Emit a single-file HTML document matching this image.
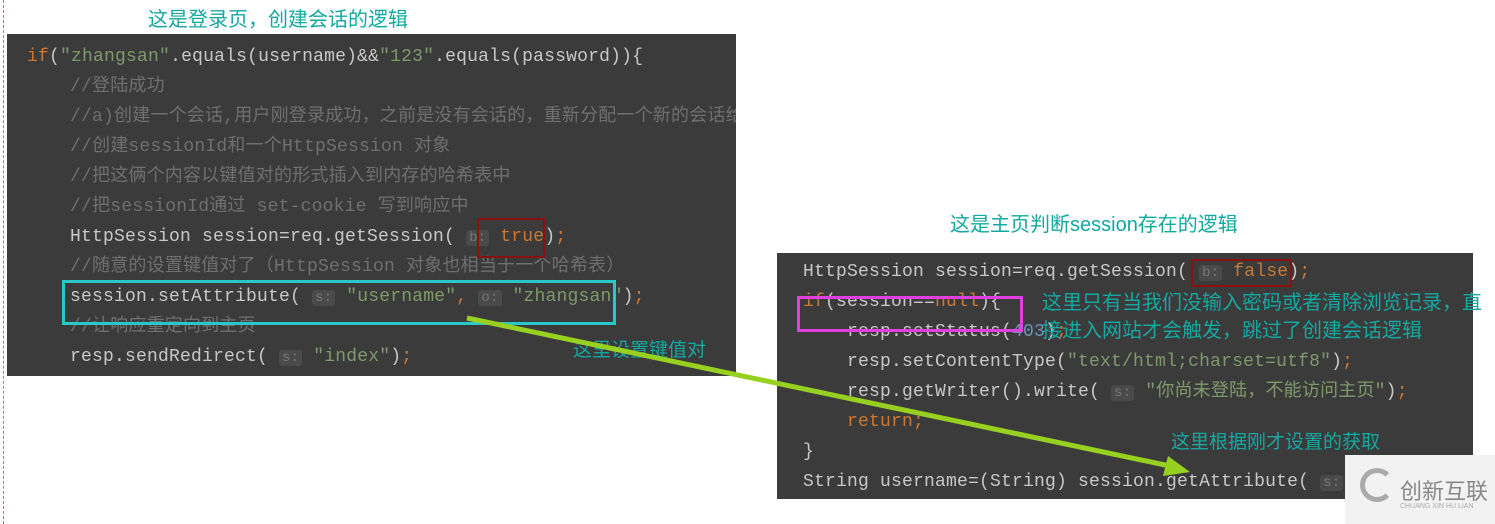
<!DOCTYPE html>
<html><head><meta charset="utf-8"><style>
body{margin:0;width:1495px;height:524px;background:#fff;position:relative;overflow:hidden;font-family:"Liberation Mono","Noto Sans CJK SC",monospace;}
.p{position:absolute;background:#3b3b3c;overflow:hidden}
.l{position:absolute;font-size:18px;color:#c8c8c8;white-space:pre;line-height:20px;letter-spacing:0.2px}
.c{color:#6f6f6f}.s{color:#7f9a6a}.k{color:#cc7832}.n{color:#6897bb}
.h{background:#4a4a4a;color:#777;font-size:14px;padding:0 3px;border-radius:3px}
.t{position:absolute;font-family:"Liberation Sans","Noto Sans CJK SC",sans-serif;color:#13a8a0;font-size:20px;white-space:pre}
.b{position:absolute;border:2px solid}
</style></head><body>
<div style="position:absolute;left:3px;top:0;height:524px;border-left:1px dashed #5a8fd0"></div>
<div class="t" style="left:148px;top:3px">这是登录页，创建会话的逻辑</div>
<div class="p" style="left:7px;top:34px;width:729px;height:342px"></div>
<div style="position:absolute;left:7px;top:34px;width:729px;height:342px;overflow:hidden">
<div class="l" style="left:20px;top:13px"><span class="k">if</span>(<span class="s">"zhangsan"</span>.equals(username)&amp;&amp;<span class="s">"123"</span>.equals(password)){</div>
<div class="l c" style="left:63px;top:43px">//登陆成功</div>
<div class="l c" style="left:63px;top:73px">//a)创建一个会话,用户刚登录成功，之前是没有会话的，重新分配一个新的会话给</div>
<div class="l c" style="left:63px;top:103px">//创建sessionId和一个HttpSession 对象</div>
<div class="l c" style="left:63px;top:133px">//把这俩个内容以键值对的形式插入到内存的哈希表中</div>
<div class="l c" style="left:63px;top:163px">//把sessionId通过 set-cookie 写到响应中</div>
<div class="l" style="left:63px;top:193px">HttpSession session=req.getSession( <span class="h">b:</span> <span class="k">true</span>)<span class="k">;</span></div>
<div class="l c" style="left:63px;top:223px">//随意的设置键值对了（HttpSession 对象也相当于一个哈希表）</div>
<div class="l" style="left:63px;top:253px">session.setAttribute( <span class="h">s:</span> <span class="s">"username"</span><span class="k">,</span> <span class="h">o:</span> <span class="s">"zhangsan"</span>)<span class="k">;</span></div>
<div class="l c" style="left:63px;top:283px">//让响应重定向到主页</div>
<div class="l" style="left:63px;top:313px">resp.sendRedirect( <span class="h">s:</span> <span class="s">"index"</span>)<span class="k">;</span></div>
</div>
<div class="b" style="left:477px;top:218px;width:64px;height:36px;border-color:#8b1010"></div>
<div class="b" style="left:62px;top:280px;width:548px;height:39px;border-color:#28c8c8;border-width:3px"></div>
<div class="t" style="left:573px;top:335px;font-size:19px">这里设置键值对</div>

<div class="t" style="left:950px;top:208px">这是主页判断session存在的逻辑</div>
<div class="p" style="left:777px;top:253px;width:696px;height:246px"></div>
<div class="l" style="left:803px;top:262px">HttpSession session=req.getSession( <span class="h">b:</span> <span class="k">false</span>)<span class="k">;</span></div>
<div class="l" style="left:803px;top:292px"><span class="k">if</span>(session==<span class="k">null</span>){</div>
<div class="l" style="left:847px;top:322px">resp.setStatus(<span class="n">403</span>)<span class="k">;</span></div>
<div class="l" style="left:847px;top:352px">resp.setContentType(<span class="s">"text/html;charset=utf8"</span>)<span class="k">;</span></div>
<div class="l" style="left:847px;top:382px">resp.getWriter().write( <span class="h">s:</span> <span class="s">"你尚未登陆，不能访问主页"</span>)<span class="k">;</span></div>
<div class="l k" style="left:847px;top:412px">return;</div>
<div class="l" style="left:803px;top:442px">}</div>
<div class="l" style="left:803px;top:472px">String username=(String) session.getAttribute( <span class="h">s:</span> "</div>
<div class="b" style="left:1191px;top:259px;width:97px;height:24px;border-color:#8b1010"></div>
<div class="b" style="left:797px;top:296px;width:220px;height:30px;border-color:#e040e0;border-width:3px"></div>
<div class="t" style="left:1042px;top:286px">这里只有当我们没输入密码或者清除浏览记录，直</div>
<div class="t" style="left:1042px;top:314px">接进入网站才会触发，跳过了创建会话逻辑</div>
<div class="t" style="left:1171px;top:427px;font-size:19px">这里根据刚才设置的获取</div>

<svg style="position:absolute;left:0;top:0" width="1495" height="524">
<line x1="467" y1="318" x2="1170" y2="466" stroke="#98d020" stroke-width="5"/>
<polygon points="1190,472 1163,476 1168,456" fill="#98d020"/>
</svg>
<div style="position:absolute;left:1345px;top:455px;width:150px;height:69px;background:#f2f2f2"></div>
<div style="position:absolute;left:1360px;top:468px;width:34px;height:34px;border-radius:50%;border:5px solid #aaa;border-right-color:transparent;box-sizing:border-box"></div>
<div class="t" style="left:1400px;top:474px;color:#888;font-size:22px">创新互联</div>
<div class="t" style="left:1400px;top:503px;color:#aaa;font-size:7px">CHUANG XIN HU LIAN</div>
</body></html>
